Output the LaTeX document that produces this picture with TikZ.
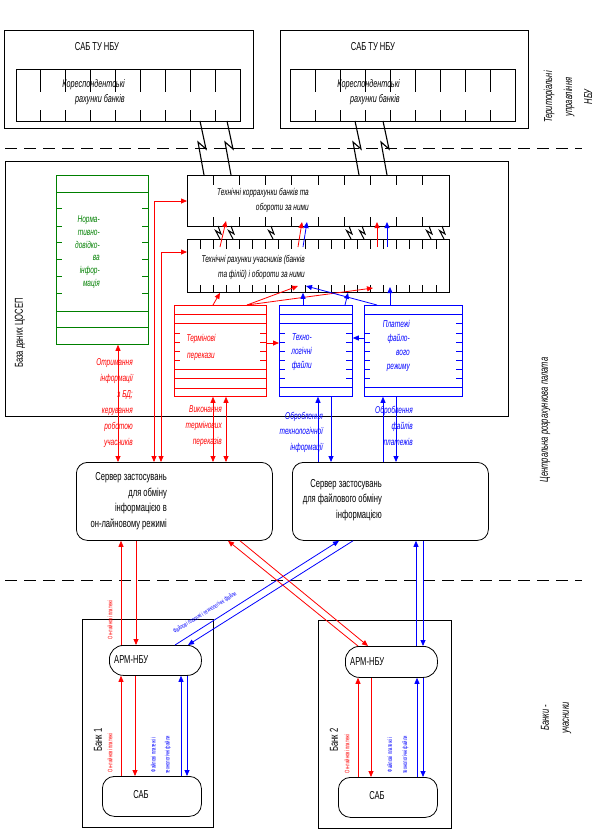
\documentclass[tikz,border=0pt]{standalone}
\usepackage{fontspec}
\setmainfont{Liberation Sans}[FakeStretch=0.66]
\usetikzlibrary{arrows.meta}
\definecolor{gn}{RGB}{0,128,0}
\tikzset{
  bx/.style={draw, line width=0.8pt, inner sep=0pt, anchor=north west},
  tk/.style={line width=0.8pt},
  ra/.style={draw=red, line width=0.8pt, -{Triangle[length=6pt,width=5pt]}},
  rda/.style={draw=red, line width=0.8pt, {Triangle[length=6pt,width=5pt]}-{Triangle[length=6pt,width=5pt]}},
  ba/.style={draw=blue, line width=0.8pt, -{Triangle[length=6pt,width=5pt]}},
  mt/.style={font=\fontsize{11.5}{13}\selectfont, inner sep=0pt},
  it/.style={font=\fontsize{9.9}{15}\selectfont\itshape, inner sep=0pt},
  tiny/.style={font=\fontsize{6.4}{7}\selectfont, inner sep=0pt},
  dsh/.style={line width=0.8pt, dash pattern=on 12pt off 7pt},
  boltA/.pic={\draw[line width=1.1pt] (0,0) -- (6,28) -- (-2,21) -- (4,54);},
  boltB/.pic={\draw[line width=1pt] (0,0) -- (3,8) -- (-2.5,4.5) -- (2,13);}
}
\begin{document}
\begin{tikzpicture}[x=1pt,y=-1pt]
\useasboundingbox (0,0) rectangle (602,831);
\fill[white] (0,0) rectangle (602,831);

% dashed separators
\draw[dsh] (5,148) -- (582,148);
\draw[dsh] (5,580) -- (582,580);

% ---------- top: territorial offices ----------
\node[bx, minimum width=249, minimum height=98] (tu1) at (4,30) {};
\node[bx, minimum width=248, minimum height=98] (tu2) at (280,30) {};
\node[mt] (tu1t) at (97,47) {САБ ТУ НБУ};
\node[mt] (tu2t) at (373,47) {САБ ТУ НБУ};
\node[bx, minimum width=224, minimum height=52] (ka1) at (16,69) {};
\node[bx, minimum width=225, minimum height=52] (ka2) at (290,69) {};
\foreach \k in {1,...,8}{
  \draw[tk] ({16+\k*224/9},69) -- ++(0,23) ({16+\k*224/9},121) -- ++(0,-11);
  \draw[tk] ({290+\k*225/9},69) -- ++(0,23) ({290+\k*225/9},121) -- ++(0,-11);
}
\node[it, font=\fontsize{11}{15}\selectfont\itshape, align=right, anchor=east] (ka1t) at (125,92.5) {Кореспондентські\\рахунки банків};
\node[it, font=\fontsize{11}{15}\selectfont\itshape, align=right, anchor=east] (ka2t) at (400,92.5) {Кореспондентські\\рахунки банків};

\node[mt, font=\fontsize{11.5}{20}\selectfont\itshape, rotate=90, align=center] (tul) at (568,97) {Територіальні\\управління\\НБУ};

% ---------- central settlement chamber ----------
\node[bx, minimum width=503, minimum height=255] (cb) at (5,161) {};
\node[mt, rotate=90] (cbt) at (20,333) {База даних ЦОСЕП};
\node[mt, font=\fontsize{11.5}{13}\selectfont\itshape, rotate=90] (crp) at (545,420) {Центральна розрахункова палата};

% NSI (green)
\node[bx, draw=gn, minimum width=92, minimum height=169] (nsi) at (56,175) {};
\foreach \y in {192,311,327} \draw[tk, gn] (56,\y) -- (148,\y);
\foreach \y in {208,226,242,259,276,293} \draw[tk, gn] (56,\y) -- ++(6,0) (148,\y) -- ++(-6,0);
\node[it, text=gn, font=\fontsize{9.9}{12.8}\selectfont\itshape, align=right, anchor=east] (nsit) at (100,252) {Норма-\\тивно-\\довідко-\\ва\\інфор-\\мація};

% technical accounts
\node[bx, minimum width=262, minimum height=51] (tb1) at (187,175) {};
\node[bx, minimum width=262, minimum height=53] (tb2) at (187,239) {};
\foreach \k in {1,...,9} \draw[tk] ({187+\k*26.2},175) -- ++(0,10) ({187+\k*26.2},226) -- ++(0,-9);
\foreach \k in {1,...,19} \draw[tk] ({187+\k*13.1},239) -- ++(0,10) ({187+\k*13.1},292) -- ++(0,-7);
\node[it, align=right, anchor=east] (tb1t) at (309,200.5) {Технічні коррахунки банків та\\обороти за ними};
\node[it, align=right, anchor=east] (tb2t) at (305,267.5) {Технічні рахунки учасників (банків\\та філій) і обороти за ними};

% lightning links
\foreach \x in {200,227,355,383} \pic at (\x,121) {boltA};
\foreach \x in {218,231,271,349,362,429,442} \pic at (\x,226) {boltB};

% urgent transfers (red)
\node[bx, draw=red, minimum width=92, minimum height=91] (term) at (174,305) {};
\foreach \y in {314,323,369,378,388} \draw[tk, red] (174,\y) -- (266,\y);
\foreach \y in {333,342,351,360} \draw[tk, red] (174,\y) -- ++(6,0) (266,\y) -- ++(-6,0);
\node[it, text=red, font=\fontsize{9.9}{17}\selectfont\itshape, align=center] (termt) at (201,347) {Термінові\\перекази};

% technological files (blue)
\node[bx, draw=blue, minimum width=73, minimum height=91] (tech) at (279,305) {};
\foreach \y in {314,323,387} \draw[tk, blue] (279,\y) -- (352,\y);
\foreach \y in {333,342,351,360,369,378} \draw[tk, blue] (279,\y) -- ++(6,0) (352,\y) -- ++(-6,0);
\node[it, text=blue, font=\fontsize{9.9}{14}\selectfont\itshape, align=right, anchor=east] (techt) at (312,352) {Техно-\\логічні\\файли};

% file-mode payments (blue)
\node[bx, draw=blue, minimum width=98, minimum height=91] (plat) at (364,305) {};
\foreach \y in {314,387} \draw[tk, blue] (364,\y) -- (462,\y);
\foreach \y in {333,342,351,360,369,378} \draw[tk, blue] (364,\y) -- ++(6,0);
\foreach \y in {323,333,342,351,360,369,378} \draw[tk, blue] (462,\y) -- ++(-6,0);
\node[it, text=blue, font=\fontsize{9.9}{14}\selectfont\itshape, align=right, anchor=east] (platt) at (410,346) {Платежі\\файло-\\вого\\режиму};

% arrows inside database
\draw[ra] (term.east |- 0,343) -- (tech.west |- 0,343);
\draw[ba] (plat.west |- 0,338) -- (tech.east |- 0,338);
\draw[ra] (213,0 |- term.north) -- (220,0 |- tb2.south);
\draw[ra] (247,0 |- term.north) -- (298,286);
\draw[ra] (247,0 |- term.north) -- (373,288);
\draw[ba] (303,0 |- tech.north) -- (303,0 |- tb2.south);
\draw[ba] (345,0 |- tech.north) -- (348,0 |- tb2.south);
\draw[ba] (377,0 |- plat.north) -- (306,286);
\draw[ba] (390,0 |- plat.north) -- (390,287);
\draw[ra] (220,247) -- (226,221);
\draw[ra] (298,247) -- (302,222);
\draw[ba] (303,247) -- (307,222);
\draw[ra] (377,247) -- (377,222);
\draw[ba] (387,247) -- (387,222);

% ---------- servers ----------
\node[bx, rounded corners=11pt, minimum width=196, minimum height=78] (srv1) at (76,462) {};
\node[bx, rounded corners=11pt, minimum width=196, minimum height=78] (srv2) at (292,462) {};
\node[mt, font=\fontsize{11.5}{15.5}\selectfont, align=right, anchor=east] (srv1t) at (167,501) {Сервер застосувань\\для обміну\\інформацією в\\он-лайновому режимі};
\node[mt, font=\fontsize{11.5}{15.5}\selectfont, align=right, anchor=east] (srv2t) at (382,500) {Сервер застосувань\\для файлового обміну\\інформацією};

% server <-> database arrows
\draw[rda] (118,0 |- nsi.south) -- (118,0 |- srv1.north);
\draw[rda] (154,0 |- srv1.north) -- (154,201) -- (tb1.west |- 0,201);
\draw[rda] (161,0 |- srv1.north) -- (161,252) -- (tb2.west |- 0,252);
\draw[rda] (213,0 |- term.south) -- (213,0 |- srv1.north);
\draw[rda] (226,0 |- term.south) -- (226,0 |- srv1.north);
\draw[ba] (318,0 |- srv2.north) -- (318,0 |- tech.south);
\draw[ba] (331,0 |- tech.south) -- (331,0 |- srv2.north);
\draw[ba] (383,0 |- srv2.north) -- (383,0 |- plat.south);
\draw[ba] (396,0 |- plat.south) -- (396,0 |- srv2.north);

\node[it, text=red, font=\fontsize{9.9}{16}\selectfont\itshape, align=right, anchor=east] (l1) at (133,403) {Отримання\\інформації\\з БД;\\керування\\роботою\\учасників};
\node[it, text=red, font=\fontsize{9.9}{16}\selectfont\itshape, align=right, anchor=east] (l2) at (222,426) {Виконання\\термінових\\переказів};
\node[it, text=blue, font=\fontsize{9.9}{15.5}\selectfont\itshape, align=right, anchor=east] (l3) at (323,432) {Оброблення\\технологічної\\інформації};
\node[it, text=blue, font=\fontsize{9.9}{16}\selectfont\itshape, align=right, anchor=east] (l4) at (413,426) {Оброблення\\файлів\\платежів};

% ---------- banks ----------
\node[bx, minimum width=131, minimum height=208] (bk1) at (82,619) {};
\node[bx, minimum width=133, minimum height=208] (bk2) at (318,620) {};
\node[bx, rounded corners=14pt, minimum width=92, minimum height=30] (arm1) at (109,645) {};
\node[bx, rounded corners=14pt, minimum width=92, minimum height=31] (arm2) at (345,646) {};
\node[bx, rounded corners=12pt, minimum width=99, minimum height=40] (sab1) at (102,776) {};
\node[bx, rounded corners=12pt, minimum width=99, minimum height=40] (sab2) at (338,777) {};
\node[mt, anchor=west] (arm1t) at (114,660) {АРМ-НБУ};
\node[mt, anchor=west] (arm2t) at (350,661.5) {АРМ-НБУ};
\node[mt] (sab1t) at (141,795) {САБ};
\node[mt] (sab2t) at (377,796) {САБ};
\node[mt, rotate=90] (bk1t) at (98,740) {Банк 1};
\node[mt, rotate=90] (bk2t) at (334,740) {Банк 2};
\node[mt, font=\fontsize{11.5}{20}\selectfont\itshape, rotate=90, align=center] (bkl) at (556,718) {Банки -\\учасники};

% servers <-> banks
\draw[ra] (121,0 |- arm1.north) -- (121,0 |- srv1.south);
\draw[ra] (136,0 |- srv1.south) -- (136,0 |- arm1.north);
\draw[ba] (175,0 |- arm1.north) -- (339,0 |- srv2.south);
\draw[ba] (353,0 |- srv2.south) -- (188,0 |- arm1.north);
\draw[ra] (358,0 |- arm2.north) -- (228,0 |- srv1.south);
\draw[ra] (240,0 |- srv1.south) -- (368,0 |- arm2.north);
\draw[ba] (416,0 |- arm2.north) -- (416,0 |- srv2.south);
\draw[ba] (423,0 |- srv2.south) -- (423,0 |- arm2.north);

% inside banks
\draw[ra] (121,0 |- sab1.north) -- (121,0 |- arm1.south);
\draw[ra] (135,0 |- arm1.south) -- (135,0 |- sab1.north);
\draw[ba] (181,0 |- sab1.north) -- (181,0 |- arm1.south);
\draw[ba] (187,0 |- arm1.south) -- (187,0 |- sab1.north);
\draw[ra] (358,0 |- sab2.north) -- (358,0 |- arm2.south);
\draw[ra] (371,0 |- arm2.south) -- (371,0 |- sab2.north);
\draw[ba] (417,0 |- sab2.north) -- (417,0 |- arm2.south);
\draw[ba] (423,0 |- arm2.south) -- (423,0 |- sab2.north);

% tiny labels
\node[tiny, text=red, rotate=90] (o1) at (110,620) {Он-лайнові платежі};
\node[tiny, text=red, rotate=90] (o2) at (110,753) {Он-лайнові платежі};
\node[tiny, text=red, rotate=90] (o3) at (347,754) {Он-лайнові платежі};
\node[tiny, text=blue, rotate=90, align=center, font=\fontsize{6.4}{14}\selectfont] (f1) at (161,755) {Файлові платежі і\\технологічні файли};
\node[tiny, text=blue, rotate=90, align=center, font=\fontsize{6.4}{15}\selectfont] (f2) at (398,755) {Файлові платежі і\\технологічні файли};
\node[tiny, text=blue, rotate=32] (f3) at (205,613) {Файлові платежі і технологічні файли};
\end{tikzpicture}
\end{document}
